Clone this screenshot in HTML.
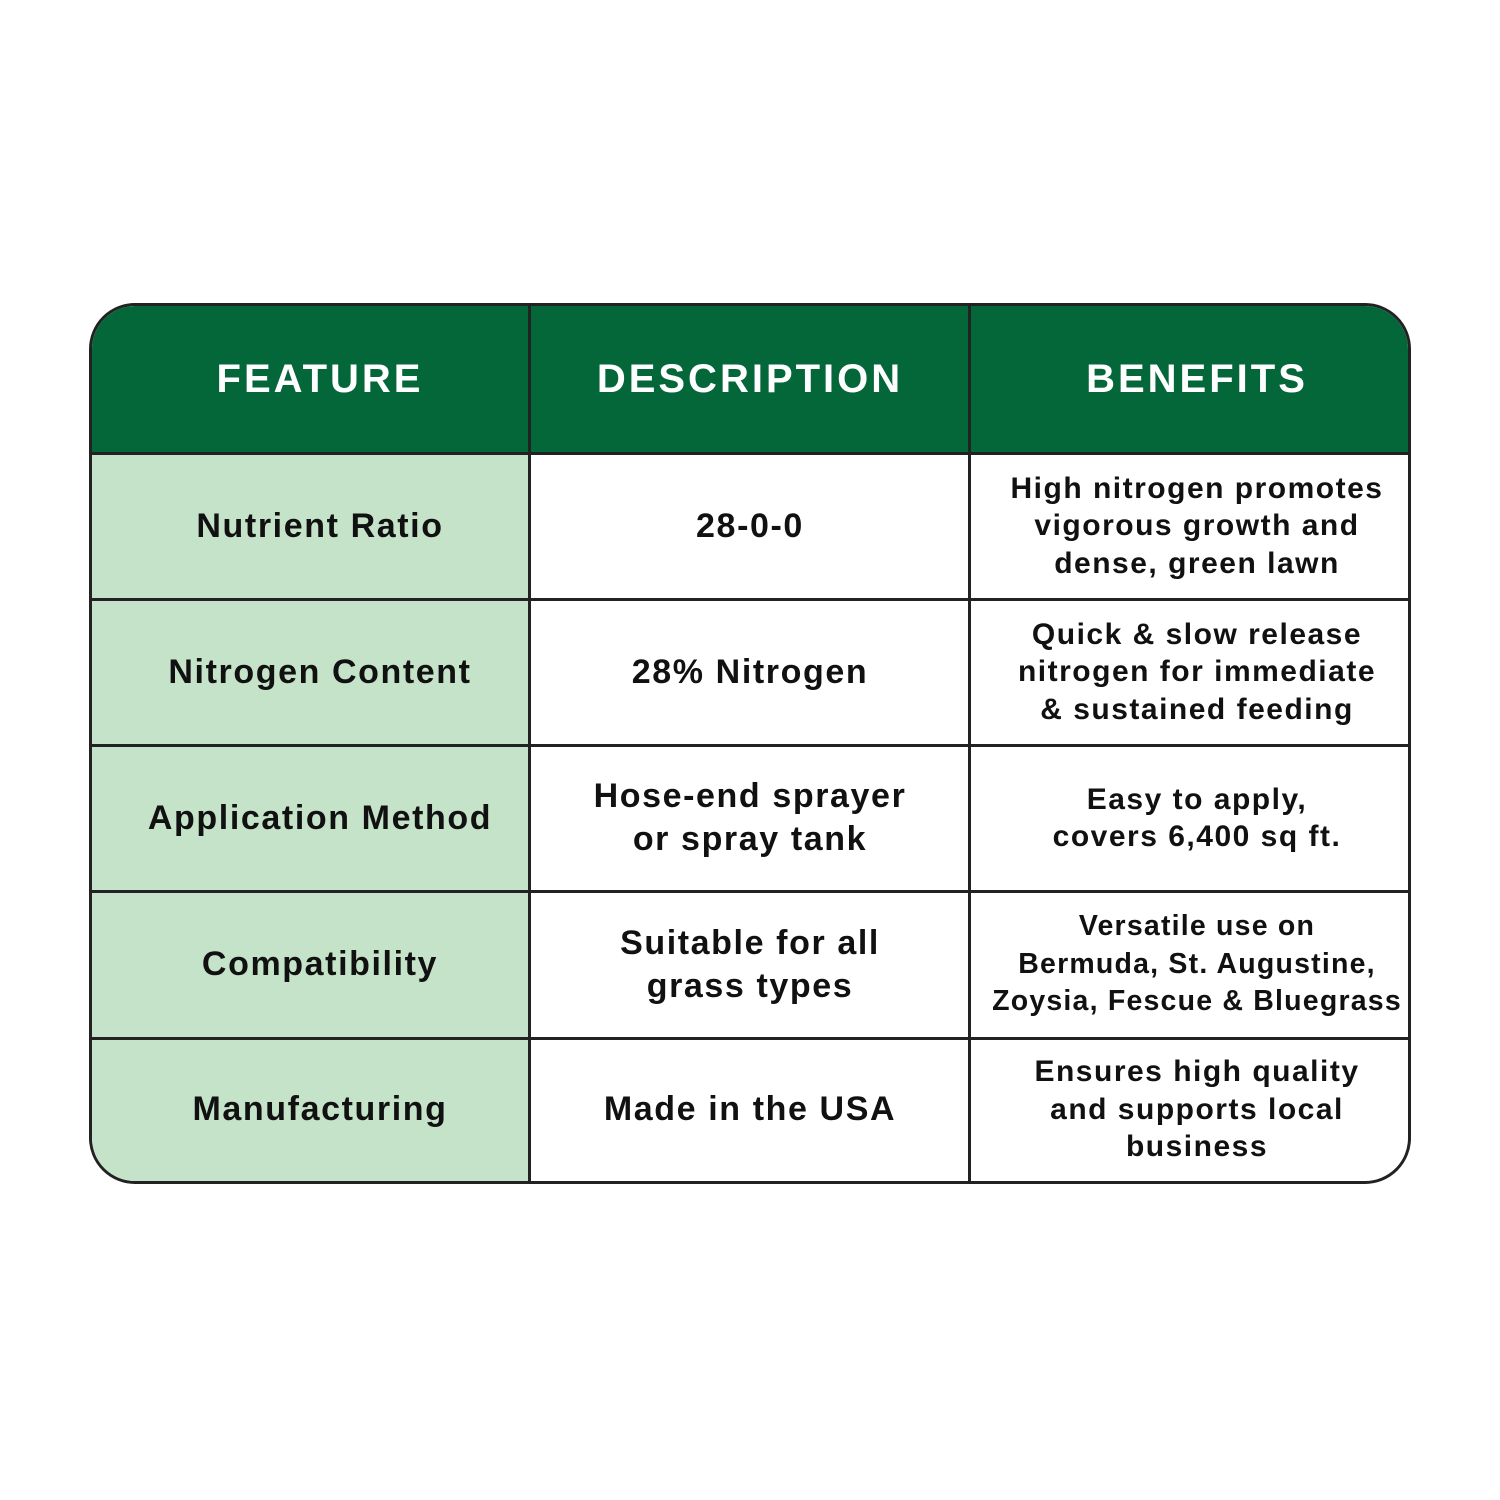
<!DOCTYPE html>
<html><head><meta charset="utf-8"><style>
html,body{margin:0;padding:0;background:#fff;width:1500px;height:1500px;overflow:hidden}
.t{position:absolute;left:89px;top:303px;width:1316px;height:875px;border:3px solid #222;border-radius:46px;overflow:hidden;background:#fff}
.c{position:absolute;display:flex;align-items:center;justify-content:center;text-align:center;font-family:"Liberation Sans",sans-serif;font-weight:bold;color:#111;box-sizing:border-box;white-space:nowrap}
.h{background:#04673a;color:#fff;font-size:40px;letter-spacing:3px}
.g{background:#c5e3c8;font-size:34px;letter-spacing:1.6px}
.d{font-size:34px;letter-spacing:1.6px;line-height:43px}
.b{font-size:30px;letter-spacing:1.5px;line-height:37.5px}
.vl{position:absolute;top:0;width:3px;height:100%;background:#222}
.hl{position:absolute;left:0;width:100%;height:3px;background:#222}
</style></head><body>
<div class="t">
<div class="c h" style="left:0;top:0;width:438px;height:147px"><span style="margin-left:18px">FEATURE</span></div>
<div class="c h" style="left:438px;top:0;width:440px;height:147px">DESCRIPTION</div>
<div class="c h" style="left:878px;top:0;width:438px;height:147px"><span style="margin-left:16px">BENEFITS</span></div>

<div class="c g" style="left:0;top:147px;width:438px;height:146px;padding-left:18px">Nutrient Ratio</div>
<div class="c g" style="left:0;top:293px;width:438px;height:146px;padding-left:18px">Nitrogen Content</div>
<div class="c g" style="left:0;top:439px;width:438px;height:146px;padding-left:18px">Application Method</div>
<div class="c g" style="left:0;top:585px;width:438px;height:147px;padding-left:18px">Compatibility</div>
<div class="c g" style="left:0;top:732px;width:438px;height:143px;padding-left:18px">Manufacturing</div>

<div class="c d" style="left:438px;top:147px;width:440px;height:146px">28-0-0</div>
<div class="c d" style="left:438px;top:293px;width:440px;height:146px">28% Nitrogen</div>
<div class="c d" style="left:438px;top:439px;width:440px;height:146px">Hose-end sprayer<br>or spray tank</div>
<div class="c d" style="left:438px;top:585px;width:440px;height:147px">Suitable for all<br>grass types</div>
<div class="c d" style="left:438px;top:732px;width:440px;height:143px">Made in the USA</div>

<div class="c b" style="left:878px;top:147px;width:438px;height:146px;padding-left:16px">High nitrogen promotes<br>vigorous growth and<br>dense, green lawn</div>
<div class="c b" style="left:878px;top:293px;width:438px;height:146px;padding-left:16px">Quick &amp; slow release<br>nitrogen for immediate<br>&amp; sustained feeding</div>
<div class="c b" style="left:878px;top:439px;width:438px;height:146px;padding-left:16px">Easy to apply,<br>covers 6,400 sq ft.</div>
<div class="c b" style="left:878px;top:585px;width:438px;height:147px;padding-left:16px;font-size:28.5px;letter-spacing:1.2px">Versatile use on<br>Bermuda, St. Augustine,<br>Zoysia, Fescue &amp; Bluegrass</div>
<div class="c b" style="left:878px;top:732px;width:438px;height:143px;padding-left:16px">Ensures high quality<br>and supports local<br>business</div>

<div class="vl" style="left:436px"></div>
<div class="vl" style="left:876px"></div>
<div class="hl" style="top:146px"></div>
<div class="hl" style="top:292px"></div>
<div class="hl" style="top:438px"></div>
<div class="hl" style="top:584px"></div>
<div class="hl" style="top:731px"></div>
</div>
</body></html>
